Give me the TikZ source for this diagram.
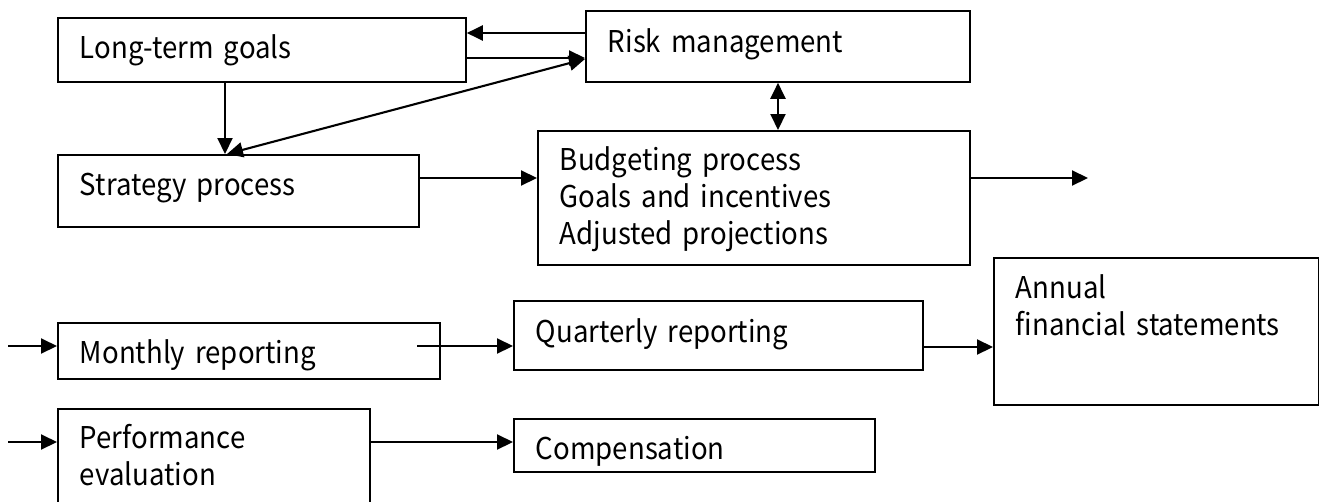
\documentclass[tikz,border=0pt]{standalone}
\usepackage{fontspec}
\setmainfont[FakeStretch=0.92]{Noto Sans CJK KR}
\usetikzlibrary{arrows.meta}
\hyphenpenalty=10000
\tikzset{
  blk/.style={draw, line width=1.8pt, anchor=north west, inner xsep=22pt, inner ysep=0pt,
    align=left, font=\fontsize{30}{37}\selectfont},
  arr/.style={line width=2.1pt, -{Triangle[length=16pt,width=15pt]}},
  darr/.style={line width=2.1pt, {Triangle[length=16pt,width=15pt]}-{Triangle[length=16pt,width=15pt]}}
}
\begin{document}
\begin{tikzpicture}[x=1pt,y=-1pt]
\clip (0,0) rectangle (1319,501);
\node[blk, text width=364pt, text height=41pt, text depth=23pt] (goals) at (57,17) {Long-term goals};
\node[blk, text width=340pt, text height=42pt, text depth=29pt] (risk) at (585,10) {Risk management};
\node[blk, text width=317pt, text height=41pt, text depth=31pt] (strat) at (57,154) {Strategy process};
\node[blk, text width=388pt, text height=40pt, text depth=94pt] (budget) at (537,130) {Budgeting process\\Goals and incentives\\Adjusted projections};
\node[blk, text width=338pt, text height=41pt, text depth=15pt] (monthly) at (57,322) {Monthly reporting};
\node[blk, text width=365pt, text height=42pt, text depth=27pt] (quarterly) at (513,300) {Quarterly reporting};
\node[blk, text width=281pt, text height=41pt, text depth=106pt] (annual) at (993,257) {Annual\\financial statements};
\node[blk, text width=268pt, text height=40pt, text depth=72pt] (perf) at (57,408) {Performance\\evaluation};
\node[blk, text width=317pt, text height=41pt, text depth=12pt] (comp) at (513,418) {Compensation};
\coordinate (out) at (1088,178);
\coordinate (inm) at (8,346);
\coordinate (mstart) at (417,346);
\coordinate (inp) at (8,442);
\draw[arr] (risk.west |- 0,33) -- (goals.east |- 0,33);
\draw[arr] (goals.east |- 0,58) -- (risk.west |- 0,58);
\draw[darr] (risk.west |- 0,59) -- (strat.north -| 227,0);
\draw[arr] (goals.south -| 225,0) -- (strat.north -| 225,0);
\draw[arr] (strat.east |- 0,178) -- (budget.west |- 0,178);
\draw[darr] (risk.south -| 778,0) -- (budget.north -| 778,0);
\draw[arr] (budget.east |- out) -- (out);
\draw[arr] (inm) -- (monthly.west |- inm);
\draw[arr] (mstart) -- (quarterly.west |- mstart);
\draw[arr] (quarterly.east |- 0,347) -- (annual.west |- 0,347);
\draw[arr] (inp) -- (perf.west |- inp);
\draw[arr] (perf.east |- inp) -- (comp.west |- inp);
\end{tikzpicture}
\end{document}
